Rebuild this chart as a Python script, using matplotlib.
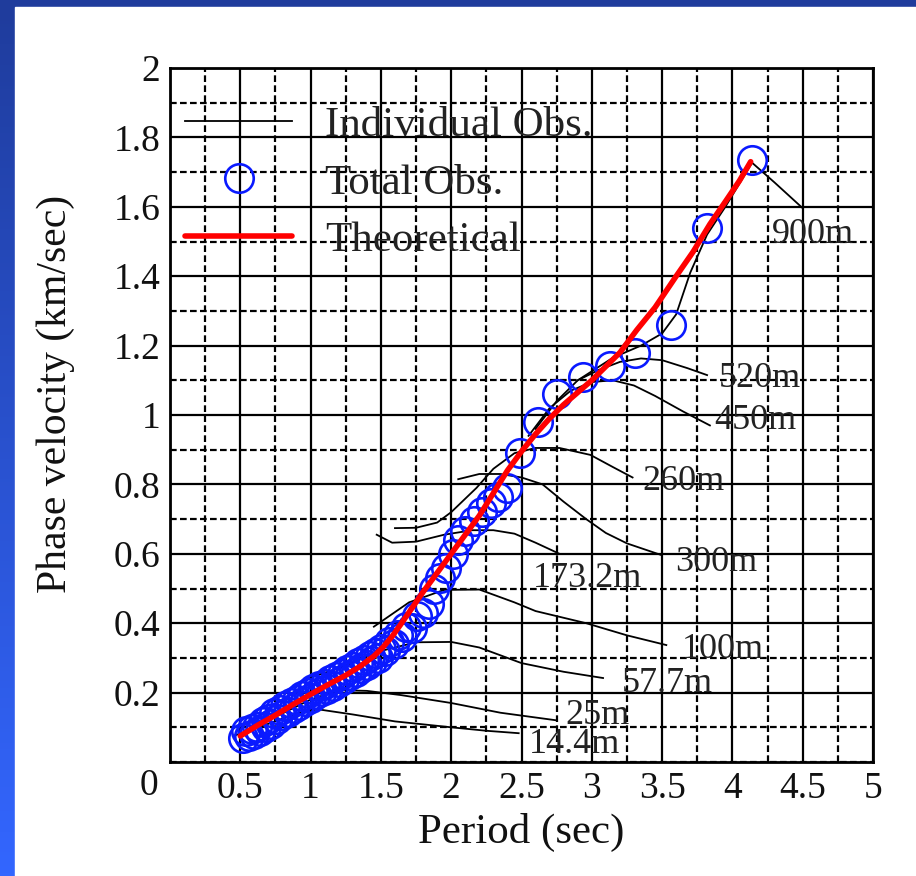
import numpy as np
import matplotlib
matplotlib.use("Agg")
import matplotlib.pyplot as plt
from matplotlib.ticker import MultipleLocator, FixedLocator, FuncFormatter
from matplotlib.colors import LinearSegmentedColormap
from matplotlib.patches import Rectangle

plt.rcParams['font.family'] = ['Liberation Serif', 'DejaVu Serif']

# ---- theoretical dispersion curve ----
theo_period = [0.5, 0.62, 0.75, 0.88, 1.0, 1.12, 1.25, 1.35, 1.45, 1.52, 1.58, 1.64,
               1.72, 1.8, 1.9, 2.0, 2.1, 2.2, 2.3, 2.4, 2.5, 2.6, 2.7, 2.8, 2.9,
               3.0, 3.1, 3.2, 3.32, 3.45, 3.6, 3.72, 3.84, 3.95, 4.05, 4.13]
theo_velocity = [0.075, 0.105, 0.135, 0.167, 0.195, 0.222, 0.25, 0.275, 0.305, 0.333,
                 0.362, 0.396, 0.443, 0.49, 0.545, 0.60, 0.655, 0.71, 0.775, 0.84,
                 0.895, 0.945, 0.99, 1.03, 1.065, 1.10, 1.14, 1.18, 1.245, 1.31,
                 1.40, 1.47, 1.55, 1.615, 1.675, 1.73]

# ---- combined observation (all arrays) ----
obs_period = [0.52, 0.54, 0.56, 0.58, 0.60, 0.62, 0.64, 0.66, 0.68, 0.70, 0.72, 0.74,
              0.76, 0.78, 0.80, 0.82, 0.84, 0.86, 0.88, 0.90, 0.92, 0.94, 0.96, 0.98,
              1.00, 1.02, 1.04, 1.06, 1.08, 1.10, 1.12, 1.14, 1.16, 1.18, 1.20, 1.22,
              1.24, 1.26, 1.28, 1.30, 1.32, 1.34, 1.36, 1.38, 1.40, 1.42, 1.44, 1.46,
              1.48, 1.50, 1.53, 1.56, 1.59, 1.62, 1.65, 1.68, 1.72, 1.76, 1.80, 1.84,
              1.88, 1.92, 1.96, 2.01, 2.05, 2.10, 2.16, 2.22, 2.28, 2.33, 2.40, 2.49,
              2.62, 2.75, 2.94, 3.13, 3.31, 3.56, 3.82, 4.14]
obs_velocity = [0.070, 0.090, 0.075, 0.095, 0.080, 0.100, 0.090, 0.115, 0.100, 0.125,
                0.110, 0.140, 0.125, 0.150, 0.135, 0.160, 0.145, 0.170, 0.155, 0.180,
                0.165, 0.190, 0.175, 0.200, 0.185, 0.210, 0.195, 0.220, 0.205, 0.225,
                0.210, 0.235, 0.220, 0.245, 0.230, 0.255, 0.240, 0.265, 0.250, 0.275,
                0.260, 0.285, 0.270, 0.295, 0.280, 0.305, 0.290, 0.315, 0.300, 0.325,
                0.320, 0.345, 0.340, 0.365, 0.360, 0.390, 0.385, 0.420, 0.430, 0.455,
                0.500, 0.530, 0.560, 0.600, 0.640, 0.665, 0.695, 0.720, 0.745, 0.765,
                0.790, 0.890, 0.980, 1.060, 1.110, 1.140, 1.180, 1.260, 1.540, 1.735]

# ---- individual array observations ----
p_14_4 = [0.45, 0.7, 0.9, 1.05, 1.3, 1.6, 2.0, 2.25, 2.48]
v_14_4 = [0.075, 0.11, 0.14, 0.152, 0.137, 0.117, 0.100, 0.090, 0.083]

p_25 = [0.5, 0.75, 1.0, 1.2, 1.4, 1.64, 2.0, 2.35, 2.75]
v_25 = [0.08, 0.13, 0.18, 0.207, 0.205, 0.193, 0.17, 0.142, 0.12]

p_57_7 = [0.97, 1.2, 1.5, 1.75, 2.0, 2.2, 2.5, 2.8, 3.08]
v_57_7 = [0.24, 0.27, 0.32, 0.345, 0.346, 0.33, 0.285, 0.26, 0.242]

p_100 = [1.45, 1.7, 1.95, 2.2, 2.45, 2.6, 2.96, 3.25, 3.53]
v_100 = [0.39, 0.46, 0.496, 0.497, 0.46, 0.435, 0.40, 0.365, 0.337]

p_173_2 = [1.47, 1.58, 1.75, 1.95, 2.15, 2.3, 2.45, 2.6, 2.77]
v_173_2 = [0.655, 0.632, 0.635, 0.655, 0.668, 0.668, 0.658, 0.632, 0.60]

p_260 = [1.6, 1.75, 1.9, 2.0, 2.18, 2.3, 2.45, 2.6, 2.77, 2.99, 3.15, 3.29]
v_260 = [0.674, 0.675, 0.69, 0.72, 0.79, 0.845, 0.89, 0.905, 0.905, 0.885, 0.85, 0.82]

p_300 = [2.05, 2.2, 2.35, 2.5, 2.65, 2.8, 2.96, 3.1, 3.25, 3.49]
v_300 = [0.815, 0.83, 0.83, 0.82, 0.80, 0.75, 0.70, 0.66, 0.63, 0.597]

p_450 = [2.55, 2.7, 2.85, 3.0, 3.15, 3.3, 3.45, 3.65, 3.84]
v_450 = [0.94, 1.02, 1.07, 1.095, 1.10, 1.085, 1.055, 1.01, 0.97]

p_520 = [2.6, 2.75, 2.9, 3.05, 3.2, 3.35, 3.5, 3.68, 3.82]
v_520 = [0.96, 1.04, 1.10, 1.13, 1.153, 1.163, 1.158, 1.135, 1.115]

p_900 = [2.9, 3.15, 3.35, 3.5, 3.6, 3.7, 3.82, 3.95, 4.14, 4.3, 4.5]
v_900 = [1.10, 1.165, 1.20, 1.235, 1.29, 1.41, 1.52, 1.60, 1.727, 1.67, 1.596]

depth_names = ['14.4m', '25m', '57.7m', '100m', '173.2m', '260m', '300m', '450m', '520m', '900m']
depth_periods = [p_14_4, p_25, p_57_7, p_100, p_173_2, p_260, p_300, p_450, p_520, p_900]
depth_velocities = [v_14_4, v_25, v_57_7, v_100, v_173_2, v_260, v_300, v_450, v_520, v_900]

# where each depth annotation sits (data coordinates, left edge / vertical centre)
label_spots = [(2.55, 0.049), (2.81, 0.133), (3.21, 0.225), (3.64, 0.323), (2.58, 0.53),
               (3.36, 0.807), (3.59, 0.576), (3.87, 0.983), (3.90, 1.104), (4.28, 1.52)]

x_ticks = [0, 0.5, 1, 1.5, 2, 2.5, 3, 3.5, 4, 4.5, 5]
y_ticks = [0.2, 0.4, 0.6, 0.8, 1.0, 1.2, 1.4, 1.6, 1.8, 2.0]

W, H = 916, 876
fig = plt.figure(figsize=(W / 100, H / 100), dpi=100)

# slide background: blue gradient frame with a white panel
bg = fig.add_axes([0, 0, 1, 1], zorder=-10)
cmap = LinearSegmentedColormap.from_list('slide', ['#1f3c9c', '#3366ff'])
bg.imshow(np.linspace(0, 1, 256).reshape(-1, 1), aspect='auto', cmap=cmap,
          extent=(0, 1, 0, 1), origin='upper')
bg.add_patch(Rectangle((15 / W, 0), 1, 1 - 7 / H, color='white'))
bg.set_xlim(0, 1)
bg.set_ylim(0, 1)
bg.axis('off')

ax = fig.add_axes([170 / W, 1 - 762 / H, 703 / W, 694 / H])
ax.set_xlim(0, 5)
ax.set_ylim(0, 2)
ax.set_axisbelow(True)

ax.xaxis.set_major_locator(FixedLocator(x_ticks))
ax.xaxis.set_minor_locator(MultipleLocator(0.25))
ax.yaxis.set_major_locator(FixedLocator(y_ticks))
ax.yaxis.set_minor_locator(MultipleLocator(0.1))
ax.xaxis.set_major_formatter(FuncFormatter(lambda v, p: '' if v == 0 else f'{v:g}'))
ax.yaxis.set_major_formatter(FuncFormatter(lambda v, p: f'{v:g}'))
ax.grid(which='major', color='black', lw=1.6, ls='-')
ax.grid(which='minor', color='black', lw=1.6, ls=(0, (3, 1.5)))
ax.tick_params(which='both', length=0, labelsize=27, colors='#111111')
ax.tick_params(axis='y', pad=7)
ax.tick_params(axis='x', pad=7)
for s in ax.spines.values():
    s.set_linewidth(2)
ax.annotate('0', xy=(0, 0), xycoords='axes fraction', xytext=(-12, -24),
            textcoords='offset pixels', ha='right', va='center', fontsize=27, color='#111111')

# individual curves
ind_line = None
for per, vel in zip(depth_periods, depth_velocities):
    ind_line, = ax.plot(per, vel, color='black', lw=1.3, zorder=3)

obs_line, = ax.plot(obs_period, obs_velocity, ls='none', marker='o', ms=20.5,
                    mfc='none', mec='#0a1aff', mew=1.9, zorder=4)
theo_line, = ax.plot(theo_period, theo_velocity, color='#ff0000', lw=4, zorder=5,
                     solid_capstyle='round', solid_joinstyle='round')

for name, (lx, ly) in zip(depth_names, label_spots):
    ax.text(lx, ly, name, fontsize=26, color='#222222', ha='left', va='center', zorder=6)

ax.set_xlabel('Period (sec)', fontsize=31, color='#111111')
ax.set_ylabel('Phase velocity (km/sec)', fontsize=30, color='#111111')
ax.xaxis.set_label_coords(0.5, -0.073)
ax.yaxis.set_label_coords(-0.135, 0.53)

leg = ax.legend([ind_line, obs_line, theo_line],
                ['Individual Obs.', 'Total Obs.', 'Theoretical'],
                loc='upper left', bbox_to_anchor=(0.021, 0.945), frameon=False,
                borderaxespad=0, borderpad=0, handlelength=2.5, handletextpad=0.75,
                labelspacing=0.42, fontsize=31, labelcolor='#222222')

fig.savefig('out.png', dpi=100)
